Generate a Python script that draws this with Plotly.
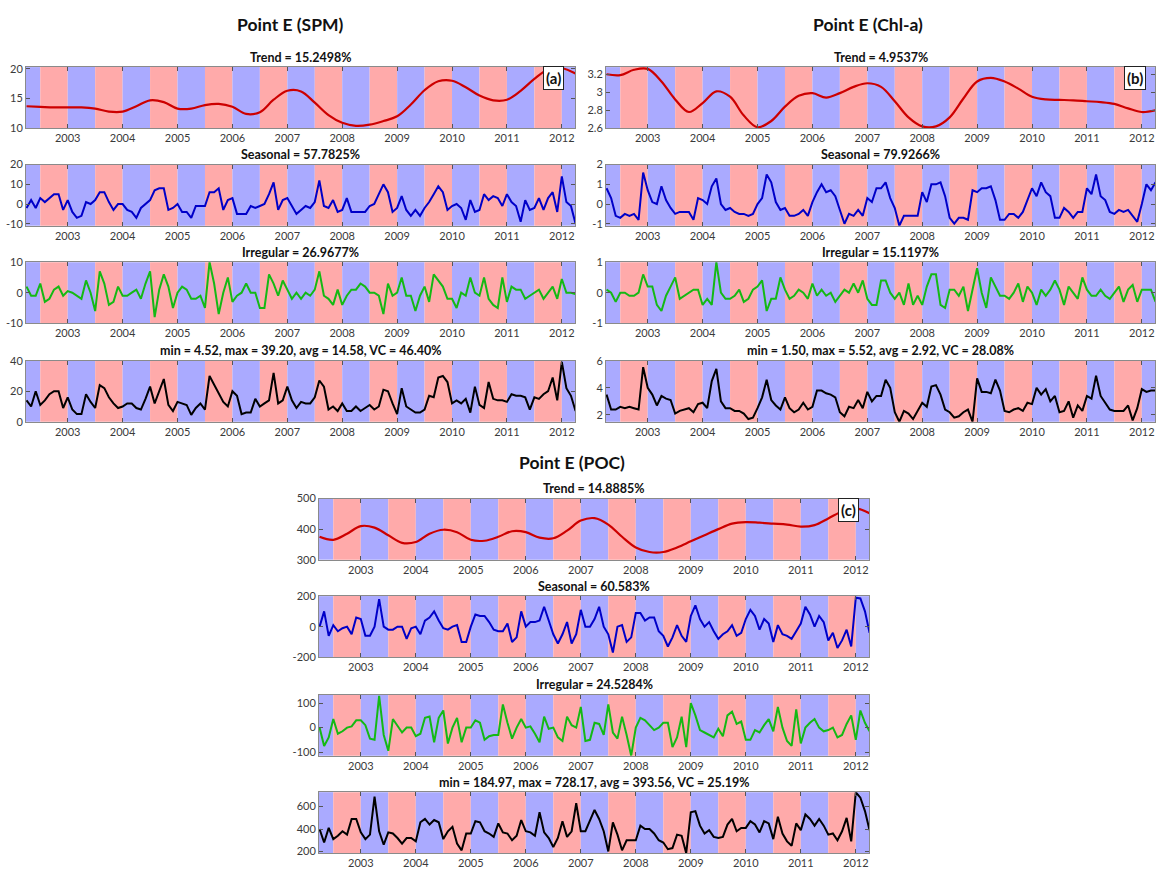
import plotly.graph_objects as go

W, H = 1157, 875

# ---------------- data (monthly Apr-2002 .. Apr-2012, trends quarterly) ----------------
years = [2003, 2004, 2005, 2006, 2007, 2008, 2009, 2010, 2011, 2012]
year_labels = [str(y) for y in years]

spm_trend = [13.7, 13.6, 13.5,
             13.5, 13.5, 13.3, 12.8,
             12.8, 13.7, 14.7, 14.4,
             13.3, 13.3, 13.9, 14.1,
             13.6, 12.4, 12.7, 14.8,
             16.3, 16.2, 14.3, 12.2,
             10.9, 10.4, 10.6, 11.2,
             12.0, 14.0, 16.4, 17.9,
             18.0, 16.9, 15.5, 14.7,
             14.8, 16.3, 18.3, 19.9,
             20.1, 19.2]
spm_seasonal = [-2, 2, -2, 3, 1, 3, 5, 5, -3,
                2, -4, -7, -6, 1, 0, 2, 6, 6, 1, -3, 0,
                0, -3, -4, -7, -2, 0, 2, 7, 8, 8, -3, -2,
                0, -4, -4, -7, -1, -1, -1, 6, 6, 8, -3, 2,
                3, -5, -5, -5, -1, -2, -1, 0, 5, 11, -3, 2,
                3, -1, -5, -3, -1, -2, 1, 12, -1, -2, 2, -4,
                -3, 3, -4, -4, -4, -4, -1, 0, 5, 10, 6, -4,
                -2, 4, -3, -6, -3, -6, -2, 1, 5, 9, 6, -3,
                -1, 0, -2, -8, 2, -4, -3, 5, 2, 4, 3, -1,
                5, 1, -1, -9, 2, -3, -2, 3, -3, 3, 6, -4,
                14, 1, -1, -10]
spm_irregular = [2, -1, -1, 3, -3, -2, 1, 2, -1,
                 0.5, 0, -1, -2, 4, 0, -6, 7, 3, -4, -3, 2,
                 -1, -1, 0, 1, -2, 3, 7, -8, 1, 6, 2, -5,
                 0, 2, 1, -2, -2, -1, -5, 10, 3, -7, 0, 5,
                 -3, -1, 0, 3, 0, 0, -5, -5, 6, 3, -1, 4,
                 1, -2, 0, -2, 0, -1, 1, 7, -1, -2, -4, 1,
                 -4, -1, 1, 1, 3, 2, 0, 0, -1, -7, 3, -1,
                 0, 5, -1, -1, -6, -1, 2, -3, 6, 4, 2, -2,
                 -2, -5, 0, -1, 5, 0, -1, 5, -2, -4, -5, 5,
                 -3, 2, 1, 1, -2, -1, 0, 1, -2, 0, 2, -2,
                 4.5, 0, 0, -0.5]
spm_raw = [14, 10, 20, 11, 14, 18, 20, 20, 9,
           16, 8, 5, 5, 18, 13, 9, 24, 22, 16, 12, 9,
           10, 12, 12, 9, 8, 15, 23, 12, 20, 28, 11, 7,
           13, 12, 11, 4.52, 9, 12, 8, 30, 24, 18, 13, 10,
           20, 17, 5, 6, 6, 15, 10, 12, 14, 32, 12, 14,
           23, 14, 9, 13, 12, 12, 16, 27, 23, 8, 10, 7,
           12, 7, 7, 10, 7, 9, 11, 8, 10, 21, 20, 12,
           5, 22, 10, 8, 6, 6, 8, 17, 16, 29, 30, 26,
           12, 14, 12, 15, 6, 23, 11, 9, 26, 15, 14, 14,
           13, 18, 17, 17, 16, 8, 16, 15, 18, 20, 29, 14,
           39.2, 22, 17, 7]

chl_trend = [3.2, 3.19, 3.25,
             3.26, 3.12, 2.92, 2.78,
             2.88, 3.01, 2.95, 2.74,
             2.61, 2.68, 2.84, 2.96,
             2.99, 2.94, 2.99, 3.06,
             3.1, 3.06, 2.9, 2.72,
             2.62, 2.62, 2.72, 2.93,
             3.12, 3.16, 3.12, 3.04,
             2.95, 2.92, 2.915, 2.91,
             2.9, 2.89, 2.87, 2.82,
             2.78, 2.8]
chl_seasonal = [0.8, 0.3, -0.6, -0.7, -0.5, -0.6, -0.5, -0.8, 1.6,
                0.7, 0.1, 0, 0.9, 0.2, -0.2, -0.5, -0.4, -0.4, -0.4, -0.8, 0.3,
                0.2, 0, 0.9, 1.3, 0, -0.3, -0.2, -0.4, -0.5, -0.5, -0.6, -0.5,
                0, 0.3, 1.5, 1.1, 0.1, -0.3, -0.2, -0.6, -0.6, -0.5, -0.3, -0.6,
                0.1, 0.6, 1.0, 0.6, 0.7, 0.4, -0.3, -1.0, -0.5, -0.6, -0.3, -0.6,
                0.3, 0.1, 0.8, 0.8, 1.1, 0.3, -0.2, -1.1, -0.6, -0.6, -0.6, -0.6,
                0.6, 0.1, 1.0, 1.0, 1.1, 0.4, -0.7, -1.0, -0.7, -0.7, -0.8, 0.7,
                0.6, 0.8, 0.8, 0.9, 0.2, -0.8, -0.8, -0.5, -0.5, -0.7, -0.4, 0.2,
                0.8, 0.4, 1.1, 0.6, 0.4, -0.7, -0.7, -0.2, -0.4, -0.7, -0.4, -0.4,
                0.8, 0.5, 1.5, 0.4, 0.2, -0.4, -0.5, -0.3, -0.4, -0.3, -0.6, -0.9,
                0, 1.0, 0.7, 1.1]
chl_irregular = [0.1, 0, -0.3, 0, 0, -0.1, -0.1, 0, 0.6,
                 0.2, 0.2, -0.4, -0.6, -0.1, 0.2, 0.5, -0.2, -0.1, 0, 0.1, 0.1,
                 -0.4, -0.2, -0.4, 1.0, 0, -0.2, -0.2, -0.1, 0.1, -0.3, -0.2, 0.1,
                 0.2, 0.4, -0.6, -0.2, -0.2, 0.5, 0.1, -0.2, -0.1, 0.1, 0, -0.2,
                 0.3, -0.1, 0.1, -0.1, 0, -0.3, -0.1, 0.1, 0, 0.3, 0, 0.4,
                 -0.2, -0.4, -0.4, 0.4, 0.4, 0, -0.2, 0, -0.4, 0.3, -0.4, -0.1,
                 -0.4, 0.2, 0.6, 0.6, -0.4, -0.5, 0.1, 0.1, -0.1, 0.2, -0.6, 0.1,
                 0.8, 0, -0.5, 0.5, 0.2, -0.1, -0.1, -0.2, 0, 0.3, -0.3, 0.2,
                 0, -0.4, 0.1, -0.1, 0.1, 0.4, 0.1, -0.4, 0.2, 0, -0.2, 0.5,
                 0.1, -0.1, -0.1, 0.1, -0.1, -0.2, 0, 0.2, -0.3, 0.1, 0.25, -0.3,
                 0.1, 0.1, 0.1, -0.3]
chl_raw = [3.5, 2.4, 2.4, 2.6, 2.5, 2.6, 2.5, 2.4, 5.52,
           4.0, 3.5, 2.7, 3.4, 3.2, 3.1, 2.1, 2.3, 2.4, 2.5, 2.2, 2.8,
           2.9, 2.5, 4.5, 5.4, 3.0, 2.5, 2.5, 2.3, 2.3, 2.1, 1.7, 1.8,
           2.5, 3.3, 4.6, 3.1, 2.7, 2.4, 3.3, 2.5, 2.2, 2.4, 2.9, 2.4,
           2.6, 3.8, 3.8, 3.6, 3.5, 3.3, 2.2, 1.9, 2.6, 2.5, 3.1, 2.5,
           3.7, 3.0, 3.4, 3.4, 4.6, 4.0, 2.2, 1.5, 2.3, 2.1, 1.7, 2.3,
           2.9, 2.6, 4.1, 4.2, 3.5, 2.4, 2.2, 1.8, 1.9, 2.2, 2.4, 1.5,
           4.7, 3.7, 3.7, 3.6, 4.6, 3.8, 2.3, 2.2, 2.4, 2.5, 2.3, 2.9,
           2.8, 4.0, 3.5, 3.9, 3.0, 3.4, 2.2, 2.3, 3.0, 1.8, 2.7, 2.3,
           3.4, 3.2, 4.9, 3.4, 2.9, 2.4, 2.3, 2.3, 2.3, 2.7, 1.6, 2.5,
           3.9, 3.7, 3.8, 3.8]

poc_trend = [375, 365, 385,
             410, 405, 380, 355,
             358, 385, 398, 390,
             365, 362, 375, 393,
             390, 372, 370, 395,
             428, 436, 415, 375,
             340, 325, 325, 340,
             360, 380, 400, 418,
             423, 421, 418, 415,
             408, 413, 435, 458,
             468, 452]
poc_seasonal = [0, 100, -60, 10, -30, -10, 0, -50, 60,
                50, -60, -60, 0, 180, 0, -20, -20, 0, 0, -80, -10,
                0, -50, 40, 60, 100, 40, -10, -20, 0, 10, -100, -100,
                0, 80, 70, 70, 30, -20, -30, -30, 20, -100, -70, 100,
                0, 30, 30, 40, 130, 40, -50, -110, -50, 30, -110, -50,
                110, 0, 0, 50, 130, 0, -50, -170, 0, 10, -100, -70,
                90, 90, 40, 60, 60, -30, -60, -130, -70, 10, -60, -100,
                70, 140, 50, 0, 30, -30, -80, -50, -30, 10, -60, -40,
                50, 110, 70, -20, 50, 20, -100, 10, -50, -60, -80, -30,
                20, 130, 80, 0, 70, 30, -90, -40, -140, -90, -20, -130,
                190, 185, 100, -40]
poc_irregular = [0, -75, -40, 35, -25, -15, 0, 5, 30,
                 30, 10, -45, -50, 130, -30, -95, 35, 10, -20, 0, 0,
                 -35, -25, 40, 45, -60, 40, 70, -65, 0, 40, -60, 0,
                 0, 30, 20, -50, -35, -30, -30, 95, 20, -45, 0, 35,
                 0, 5, -25, -60, 45, -5, 0, -40, -55, 45, 10, 0,
                 85, -55, -50, 20, 15, -30, 95, -20, -45, 45, -30, -115,
                 0, 40, 30, 10, -10, 0, 20, 20, -80, -40, 45, -80,
                 100, 50, -10, -20, -30, -40, -5, -35, 50, 65, 15, 25,
                 -50, -50, -10, -20, 10, 35, -15, 85, 0, -55, -75, 75,
                 -65, 0, 20, 35, 0, -15, -10, 0, -40, -30, 15, 50,
                 -50, 70, 20, -15]
poc_raw = [400, 280, 410, 310, 340, 380, 350, 490, 490,
           370, 310, 350, 690, 380, 260, 370, 360, 320, 270, 320, 320,
           290, 460, 490, 440, 480, 460, 310, 380, 420, 270, 210, 360,
           360, 470, 460, 380, 360, 330, 450, 370, 360, 300, 340, 480,
           380, 370, 340, 550, 370, 320, 240, 320, 470, 330, 380, 630,
           380, 380, 480, 570, 490, 380, 200, 460, 350, 210, 300, 300,
           300, 430, 400, 400, 360, 300, 280, 220, 230, 350, 340, 184.97,
           550, 560, 430, 360, 390, 330, 320, 330, 440, 490, 380, 410,
           410, 470, 440, 370, 470, 450, 310, 510, 360, 290, 250, 450,
           390, 530, 490, 430, 490, 430, 350, 360, 300, 380, 500, 290,
           728.17, 680, 560, 390]

spm_titles = ["Trend = 15.2498%", "Seasonal = 57.7825%", "Irregular = 26.9677%",
              "min = 4.52, max = 39.20, avg = 14.58, VC = 46.40%"]
chl_titles = ["Trend = 4.9537%", "Seasonal = 79.9266%", "Irregular = 15.1197%",
              "min = 1.50, max = 5.52, avg = 2.92, VC = 28.08%"]
poc_titles = ["Trend = 14.8885%", "Seasonal = 60.583%", "Irregular = 24.5284%",
              "min = 184.97, max = 728.17, avg = 393.56, VC = 25.19%"]

# ---------------- styling / layout ----------------
FONT = "Lato"
X0, X1 = 2002.24, 2012.24
BLUE_BAND = "rgb(170,170,255)"
RED_BAND = "rgb(255,170,170)"
LINE_COLORS = ["rgb(205,0,0)", "rgb(0,0,200)", "rgb(20,185,20)", "rgb(0,0,0)"]


def month_x(n):
    return [2002.25 + i / 12 for i in range(n)]


def quarter_x(n):
    return [2002.25 + i / 4 for i in range(n)]


panels = [
    dict(left=26, right=575, tops=[61, 160, 259, 359], title="Point E (SPM)", tx=290, ty=18,
         label="(a)", lx=553, ly=72, subs=spm_titles,
         series=[spm_trend, spm_seasonal, spm_irregular, spm_raw],
         ranges=[[10, 20.3], [-11, 20], [-10, 10], [0, 40]],
         yt=[[10, 15, 20], [-10, 0, 10, 20], [-10, 0, 10], [0, 20, 40]],
         ytt=[["10", "15", "20"], ["-10", "0", "10", "20"], ["-10", "0", "10"], ["0", "20", "40"]]),
    dict(left=606, right=1155, tops=[61, 160, 259, 359], title="Point E (Chl-a)", tx=868, ty=18,
         label="(b)", lx=1135, ly=72, subs=chl_titles,
         series=[chl_trend, chl_seasonal, chl_irregular, chl_raw],
         ranges=[[2.6, 3.28], [-1.1, 2], [-1, 1], [1.5, 6]],
         yt=[[2.6, 2.8, 3, 3.2], [-1, 0, 1, 2], [-1, 0, 1], [2, 4, 6]],
         ytt=[["2.6", "2.8", "3", "3.2"], ["-1", "0", "1", "2"], ["-1", "0", "1"], ["2", "4", "6"]]),
    dict(left=319, right=869, tops=[499, 598, 698, 797], title="Point E (POC)", tx=572, ty=462,
         label="(c)", lx=848, ly=511, subs=poc_titles,
         series=[poc_trend, poc_seasonal, poc_irregular, poc_raw],
         ranges=[[300, 500], [-200, 200], [-115, 135], [184, 729]],
         yt=[[300, 400, 500], [-200, 0, 200], [-100, 0, 100], [200, 400, 600]],
         ytt=[["300", "400", "500"], ["-200", "0", "200"], ["-100", "0", "100"], ["200", "400", "600"]]),
]

ROW_H = 62
fig = go.Figure()
layout = dict(width=W, height=H, margin=dict(l=0, r=0, t=0, b=0),
              paper_bgcolor="white", plot_bgcolor="white", showlegend=False,
              font=dict(family=FONT, size=11, color="#333"))
shapes, annotations = [], []

tickfont = dict(family=FONT, size=11, color="#3a3a3a")

n = 0
for p in panels:
    for r in range(4):
        n += 1
        xa = "x" if n == 1 else f"x{n}"
        ya = "y" if n == 1 else f"y{n}"
        xk = "xaxis" if n == 1 else f"xaxis{n}"
        yk = "yaxis" if n == 1 else f"yaxis{n}"
        top = p["tops"][r]
        bot = top + ROW_H
        vals = p["series"][r]
        if r == 0:
            xs = quarter_x(len(vals))
            fig.add_trace(go.Scatter(x=xs, y=vals, mode="lines", xaxis=xa, yaxis=ya,
                                     line=dict(color=LINE_COLORS[0], width=2.2, shape="spline"),
                                     hoverinfo="skip"))
        else:
            xs = month_x(len(vals))
            fig.add_trace(go.Scatter(x=xs, y=vals, mode="lines", xaxis=xa, yaxis=ya,
                                     line=dict(color=LINE_COLORS[r], width=2),
                                     hoverinfo="skip"))
        layout[xk] = dict(domain=[p["left"] / W, p["right"] / W], range=[X0, X1], anchor=ya,
                          tickvals=years, ticktext=year_labels, ticks="inside", ticklen=4,
                          tickcolor="#555", showline=True, linecolor="#8a8a8a", linewidth=1,
                          mirror="ticks", showgrid=False, zeroline=False, tickfont=tickfont,
                          fixedrange=True)
        layout[yk] = dict(domain=[1 - bot / H, 1 - top / H], range=p["ranges"][r], anchor=xa,
                          tickvals=p["yt"][r], ticktext=p["ytt"][r], ticks="inside", ticklen=4,
                          tickcolor="#555", showline=True, linecolor="#8a8a8a", linewidth=1,
                          mirror="ticks", showgrid=False, zeroline=False, tickfont=tickfont,
                          fixedrange=True)
        # half-year background bands: blue Jan-Jun, red Jul-Dec
        for y in range(2002, 2013):
            for a, b, col in ((y, y + 0.5, BLUE_BAND), (y + 0.5, y + 1, RED_BAND)):
                a2, b2 = max(a, X0), min(b, X1)
                if b2 <= a2:
                    continue
                shapes.append(dict(type="rect", xref=xa, yref=f"{ya} domain", x0=a2, x1=b2,
                                   y0=0, y1=1, fillcolor=col, line=dict(width=0), layer="below"))
        # sub-title
        annotations.append(dict(text=f"<b>{p['subs'][r]}</b>", xref="paper", yref="paper",
                                x=(p["left"] + p["right"]) / 2 / W, y=1 - (top - 10) / H,
                                xanchor="center", yanchor="middle", showarrow=False,
                                font=dict(family=FONT, size=12.5, color="#111")))
    annotations.append(dict(text=f"<b>{p['title']}</b>", xref="paper", yref="paper",
                            x=p["tx"] / W, y=1 - p["ty"] / H, xanchor="center", yanchor="middle",
                            showarrow=False, font=dict(family=FONT, size=17.5, color="#111")))
    annotations.append(dict(text=f"<b>{p['label']}</b>", xref="paper", yref="paper",
                            x=p["lx"] / W, y=1 - p["ly"] / H, xanchor="center", yanchor="middle",
                            showarrow=False, bgcolor="white", bordercolor="#222", borderwidth=1,
                            borderpad=2, font=dict(family=FONT, size=15, color="#111")))

layout["shapes"] = shapes
layout["annotations"] = annotations
fig.update_layout(**layout)
fig.write_html("out.html", config={"displayModeBar": False, "displaylogo": False},
               post_script="document.body.style.margin='0px';document.body.style.overflow='hidden';")
